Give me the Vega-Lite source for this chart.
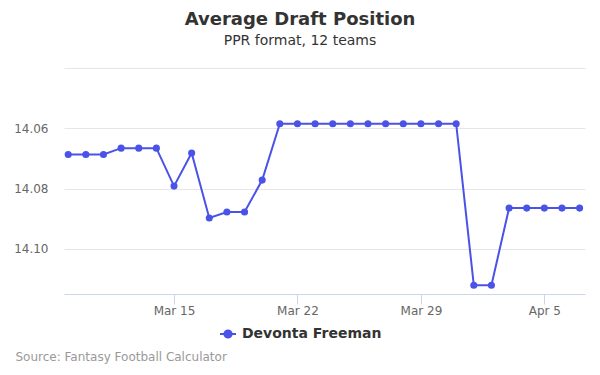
{
  "$schema": "https://vega.github.io/schema/vega-lite/v6.json",
  "width": 521,
  "height": 226,
  "autosize": {"type": "none"},
  "padding": {"left": 64, "top": 68, "right": 15, "bottom": 81},
  "background": "white",
  "config": {
    "font": "DejaVu Sans",
    "view": {"stroke": null}
  },
  "title": {
    "text": "Average Draft Position",
    "subtitle": "PPR format, 12 teams",
    "anchor": "middle",
    "frame": "group",
    "dx": -24.5,
    "fontSize": 18,
    "fontWeight": "bold",
    "color": "#333333",
    "subtitleFontSize": 14,
    "subtitleColor": "#333333",
    "subtitlePadding": 5,
    "offset": 20
  },
  "data": {
    "values": [
      {"date": "2018-03-09", "adp": 14.0687, "player": "Devonta Freeman"},
      {"date": "2018-03-10", "adp": 14.0687, "player": "Devonta Freeman"},
      {"date": "2018-03-11", "adp": 14.0687, "player": "Devonta Freeman"},
      {"date": "2018-03-12", "adp": 14.0666, "player": "Devonta Freeman"},
      {"date": "2018-03-13", "adp": 14.0666, "player": "Devonta Freeman"},
      {"date": "2018-03-14", "adp": 14.0666, "player": "Devonta Freeman"},
      {"date": "2018-03-15", "adp": 14.0792, "player": "Devonta Freeman"},
      {"date": "2018-03-16", "adp": 14.0682, "player": "Devonta Freeman"},
      {"date": "2018-03-17", "adp": 14.0898, "player": "Devonta Freeman"},
      {"date": "2018-03-18", "adp": 14.0878, "player": "Devonta Freeman"},
      {"date": "2018-03-19", "adp": 14.0878, "player": "Devonta Freeman"},
      {"date": "2018-03-20", "adp": 14.0772, "player": "Devonta Freeman"},
      {"date": "2018-03-21", "adp": 14.0585, "player": "Devonta Freeman"},
      {"date": "2018-03-22", "adp": 14.0585, "player": "Devonta Freeman"},
      {"date": "2018-03-23", "adp": 14.0585, "player": "Devonta Freeman"},
      {"date": "2018-03-24", "adp": 14.0585, "player": "Devonta Freeman"},
      {"date": "2018-03-25", "adp": 14.0585, "player": "Devonta Freeman"},
      {"date": "2018-03-26", "adp": 14.0585, "player": "Devonta Freeman"},
      {"date": "2018-03-27", "adp": 14.0585, "player": "Devonta Freeman"},
      {"date": "2018-03-28", "adp": 14.0585, "player": "Devonta Freeman"},
      {"date": "2018-03-29", "adp": 14.0585, "player": "Devonta Freeman"},
      {"date": "2018-03-30", "adp": 14.0585, "player": "Devonta Freeman"},
      {"date": "2018-03-31", "adp": 14.0585, "player": "Devonta Freeman"},
      {"date": "2018-04-01", "adp": 14.1121, "player": "Devonta Freeman"},
      {"date": "2018-04-02", "adp": 14.1121, "player": "Devonta Freeman"},
      {"date": "2018-04-03", "adp": 14.0865, "player": "Devonta Freeman"},
      {"date": "2018-04-04", "adp": 14.0865, "player": "Devonta Freeman"},
      {"date": "2018-04-05", "adp": 14.0865, "player": "Devonta Freeman"},
      {"date": "2018-04-06", "adp": 14.0865, "player": "Devonta Freeman"},
      {"date": "2018-04-07", "adp": 14.0865, "player": "Devonta Freeman"}
    ]
  },
  "encoding": {
    "x": {
      "field": "date",
      "type": "temporal",
      "scale": {
        "type": "utc",
        "domain": [
          {"year": 2018, "month": 3, "date": 8, "hours": 18, "minutes": 17, "utc": true},
          {"year": 2018, "month": 4, "date": 7, "hours": 7, "minutes": 20, "utc": true}
        ]
      },
      "axis": {
        "title": "Source: Fantasy Football Calculator",
        "titleAnchor": "start",
        "titleAlign": "left",
        "titleX": -49,
        "titleY": 66,
        "titleBaseline": "alphabetic",
        "titleFontSize": 12,
        "titleFontWeight": "normal",
        "titleColor": "#999999",
        "values": [
          {"year": 2018, "month": 3, "date": 15, "utc": true},
          {"year": 2018, "month": 3, "date": 22, "utc": true},
          {"year": 2018, "month": 3, "date": 29, "utc": true},
          {"year": 2018, "month": 4, "date": 5, "utc": true}
        ],
        "labelExpr": "utcFormat(datum.value, '%b %-d')",
        "grid": false,
        "domainColor": "#ccd6eb",
        "tickColor": "#ccd6eb",
        "tickSize": 10,
        "labelColor": "#666666",
        "labelFontSize": 12,
        "labelPadding": 1
      }
    },
    "y": {
      "field": "adp",
      "type": "quantitative",
      "scale": {"domain": [14.04, 14.115], "reverse": true, "nice": false, "zero": false},
      "axis": {
        "title": null,
        "values": [14.04, 14.06, 14.08, 14.1],
        "labelExpr": "datum.value < 14.05 ? '' : format(datum.value, '.2f')",
        "domain": false,
        "ticks": false,
        "tickSize": 0,
        "labelPadding": 16,
        "labelColor": "#666666",
        "labelFontSize": 12,
        "gridColor": "#e6e6e6"
      }
    },
    "color": {
      "field": "player",
      "type": "nominal",
      "scale": {"range": ["#4a52e8"]},
      "legend": {
        "title": null,
        "orient": "none",
        "legendX": 155,
        "legendY": 257,
        "padding": 0,
        "symbolType": "M-1,0L1,0M-0.45,0A0.45,0.45 0 1,1 0.45,0A0.45,0.45 0 1,1 -0.45,0Z",
        "symbolSize": 256,
        "symbolStrokeWidth": 2,
        "symbolFillColor": "#4a52e8",
        "symbolStrokeColor": "#4a52e8",
        "labelFontSize": 14,
        "labelFontWeight": "bold",
        "labelColor": "#333333",
        "labelOffset": 5
      }
    }
  },
  "layer": [
    {"mark": {"type": "line", "strokeWidth": 2}},
    {"mark": {"type": "point", "filled": true, "size": 50, "opacity": 1}}
  ]
}
